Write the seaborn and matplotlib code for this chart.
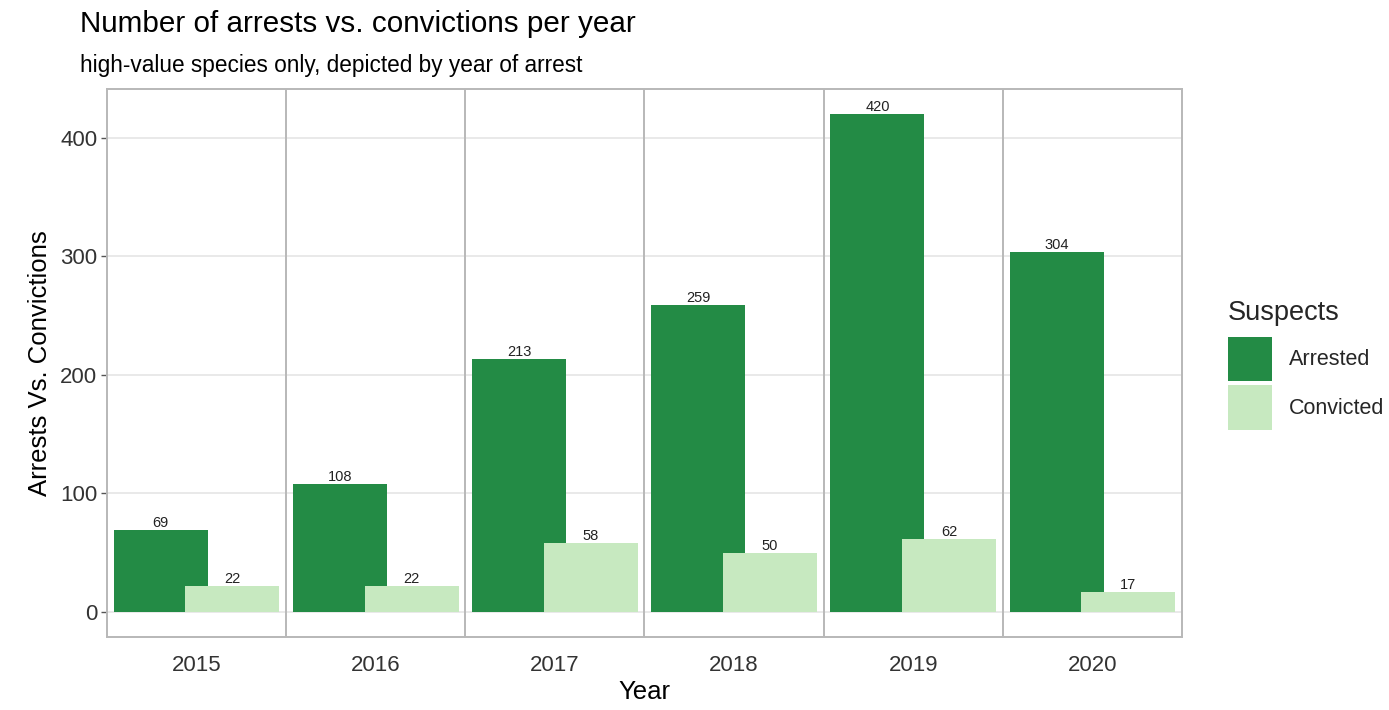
import matplotlib
matplotlib.use("Agg")
import matplotlib.pyplot as plt
import seaborn as sns
import pandas as pd
from matplotlib.patches import Patch

years = ["2015", "2016", "2017", "2018", "2019", "2020"]
arrested = [69, 108, 213, 259, 420, 304]
convicted = [22, 22, 58, 50, 62, 17]
groups = ["Arrested", "Convicted"]
colors = ["#238B45", "#C7E9C0"]

df = pd.DataFrame({
    "Year": years * 2,
    "Count": arrested + convicted,
    "Suspects": [groups[0]] * len(years) + [groups[1]] * len(years),
})

sns.set_theme(style="white")
plt.rcParams["font.family"] = ["Liberation Sans", "DejaVu Sans"]

fig = plt.figure(figsize=(13.89, 7.10), dpi=100)
ax = fig.add_axes([0.077, 0.1028, 0.774, 0.7718])

sns.barplot(data=df, x="Year", y="Count", hue="Suspects", order=years,
            hue_order=groups, palette=colors, width=0.8, dodge=True,
            saturation=1, ax=ax, legend=False, zorder=3)

# widen bars so they overlap (keep centers)
new_w = 0.525
for p in ax.patches:
    c = p.get_x() + p.get_width() / 2
    p.set_width(new_w)
    p.set_x(c - new_w / 2)
    p.set_linewidth(0)

for cont in ax.containers:
    ax.bar_label(cont, fmt="%d", fontsize=10.5, padding=0, color="#222222")

ax.set_xlim(-0.5, len(years) - 0.5)
ax.set_ylim(-21, 441)
ax.set_yticks([0, 100, 200, 300, 400])
ax.yaxis.grid(True, color="#E5E5E5", linewidth=1.2, zorder=0)
ax.set_axisbelow(True)
for i in range(len(years) - 1):
    ax.axvline(i + 0.5, color="#B8B8B8", linewidth=1.4, zorder=4)
for s in ax.spines.values():
    s.set_color("#B8B8B8")
    s.set_linewidth(1.4)

ax.tick_params(axis="y", left=True, length=4, width=1, color="#555555",
               labelsize=16, labelcolor="#333333", pad=3)
ax.tick_params(axis="x", bottom=False, labelsize=16, labelcolor="#333333", pad=7)
ax.set_xlabel("Year", fontsize=18.5, color="black", labelpad=3)
ax.set_ylabel("Arrests Vs. Convictions", fontsize=18.5, color="black", labelpad=6)

fig.text(0.0576, 0.966, "Number of arrests vs. convictions per year",
         fontsize=21.3, ha="left", va="center", color="black")
fig.text(0.0576, 0.908, "high-value species only, depicted by year of arrest",
         fontsize=16.3, ha="left", va="center", color="black")

handles = [Patch(facecolor=c, edgecolor="none") for c in colors]
leg = fig.legend(handles, groups, title="Suspects", loc="upper left",
                 bbox_to_anchor=(0.8765, 0.593), frameon=False,
                 fontsize=15.5, title_fontsize=19.5, handlelength=2.05,
                 handleheight=2.8, handletextpad=0.75, labelspacing=0.18,
                 borderpad=0)
leg._legend_box.align = "left"
leg._legend_box.sep = 8

fig.savefig("out.png", dpi=100)
